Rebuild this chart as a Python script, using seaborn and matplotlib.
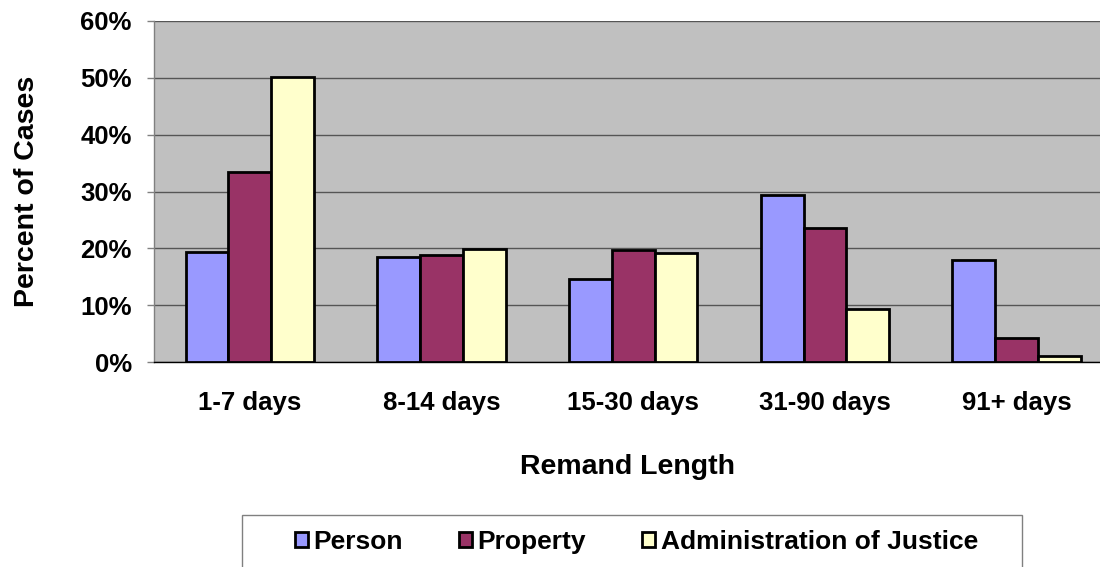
import matplotlib
matplotlib.use("Agg")
import matplotlib.pyplot as plt
from matplotlib.patches import Rectangle
import seaborn as sns
import pandas as pd
from matplotlib.ticker import FixedLocator, PercentFormatter

# Share of cases by remand length, per offence type (percent)
remand_lengths = ["1-7 days", "8-14 days", "15-30 days", "31-90 days", "91+ days"]
person = [19.4, 18.5, 14.6, 29.3, 18.0]
property_ = [33.4, 18.8, 19.7, 23.5, 4.2]
admin_justice = [50.2, 19.8, 19.2, 9.4, 1.1]
offence_types = ["Person", "Property", "Administration of Justice"]
colors = ["#9999FF", "#993366", "#FFFFCC"]
y_ticks = [0, 10, 20, 30, 40, 50, 60]

df = pd.DataFrame({
    "Remand Length": remand_lengths * 3,
    "Offence": [offence_types[0]] * 5 + [offence_types[1]] * 5 + [offence_types[2]] * 5,
    "Percent": person + property_ + admin_justice,
})

sns.set_style("white")
plt.rcParams["font.family"] = ["Liberation Sans", "DejaVu Sans"]
plt.rcParams["font.weight"] = "bold"
plt.rcParams["text.color"] = "black"
plt.rcParams["axes.labelcolor"] = "black"
plt.rcParams["xtick.labelcolor"] = "black"
plt.rcParams["ytick.labelcolor"] = "black"

fig = plt.figure(figsize=(11, 5.67), dpi=100)
ax = fig.add_axes([154 / 1100, 1 - 362 / 567, 946 / 1100, 341 / 567])
ax.set_facecolor("#C0C0C0")

sns.barplot(data=df, x="Remand Length", y="Percent", hue="Offence",
            order=remand_lengths, hue_order=offence_types, palette=colors,
            width=0.67, edgecolor="black", linewidth=2.0, saturation=1,
            ax=ax, zorder=3)

ax.set_ylim(0, 60)
ax.set_xlim(-0.5, -0.5 + 946 / 191.7)
ax.yaxis.set_major_locator(FixedLocator(y_ticks))
ax.yaxis.set_major_formatter(PercentFormatter(decimals=0))
ax.grid(axis="y", color="#555555", linewidth=1.0, zorder=1)
ax.set_axisbelow(True)

for side in ("top", "right"):
    ax.spines[side].set_visible(False)
ax.spines["left"].set_color("#808080")
ax.spines["left"].set_linewidth(1.0)
ax.spines["bottom"].set_color("black")
ax.spines["bottom"].set_linewidth(1.0)

# category labels centred, tick marks on group boundaries
ax.xaxis.set_minor_locator(FixedLocator([i - 0.5 for i in range(len(remand_lengths) + 1)]))
ax.tick_params(axis="x", which="major", length=0, pad=21, labelsize=18.5)
ax.tick_params(axis="x", which="minor", length=6, width=1, color="#808080", direction="out")
ax.tick_params(axis="y", which="major", length=5, width=1, color="#808080",
               direction="out", left=True, pad=11, labelsize=18.5)
for lbl in ax.get_xticklabels() + ax.get_yticklabels():
    lbl.set_fontweight("bold")

ax.set_xlabel("Remand Length", fontsize=20.5, fontweight="bold", labelpad=28)
ax.set_ylabel("Percent of Cases", fontsize=20.5, fontweight="bold", labelpad=29)

ax.get_legend().remove()
handles, labels = ax.get_legend_handles_labels()
leg = fig.legend(handles, labels, loc="center left",
                 bbox_to_anchor=(295 / 1100, 1 - 542 / 567, 683 / 1100, 0.0),
                 mode="expand", ncol=3, fontsize=19, frameon=False,
                 borderpad=0, handlelength=0.5, handleheight=0.5,
                 handletextpad=0.2, borderaxespad=0)
for t in leg.get_texts():
    t.set_fontweight("bold")

# legend box, open at the bottom edge of the figure
fig.add_artist(Rectangle((242 / 1100, -0.05), 780 / 1100, (567 - 515) / 567 + 0.05,
                         transform=fig.transFigure, fill=False,
                         edgecolor="#808080", linewidth=1.0))

fig.savefig("out.png", dpi=100, facecolor="white")
